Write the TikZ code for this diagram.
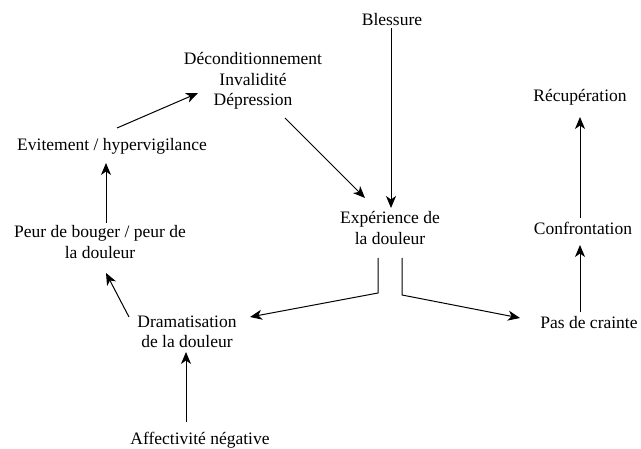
\documentclass[tikz,border=0pt]{standalone}
\usepackage{fontspec}
\setmainfont{Liberation Serif}
\usetikzlibrary{arrows.meta}
\tikzset{
  txt/.style={align=center, inner sep=0pt, font=\fontsize{17.5}{20.5}\selectfont},
  arr/.style={line width=1pt, -{Stealth[length=12pt,width=10pt,inset=3.5pt]}}
}
\begin{document}
\begin{tikzpicture}[x=1pt,y=1pt]
  \useasboundingbox (0,0) rectangle (641,449);
  % texts
  \node[txt] (blessure) at (392,429) {Blessure};
  \node[txt] (decond) at (253,368) {Déconditionnement\\Invalidité\\Dépression};
  \node[txt] (evit) at (112,303) {Evitement / hypervigilance};
  \node[txt] (peur) at (100,207) {Peur de bouger / peur de\\la douleur};
  \node[txt] (dram) at (187,117) {Dramatisation\\de la douleur};
  \node[txt] (affect) at (200,9) {Affectivité négative};
  \node[txt] (exp) at (390,221) {Expérience de\\la douleur};
  \node[txt] (pas) at (589,126) {Pas de crainte};
  \node[txt] (conf) at (583,221) {Confrontation};
  \node[txt] (recup) at (580,352) {Récupération};
  % split points below the experience
  \coordinate (splitl) at ([shift={(-12,-65)}]exp.center);
  \coordinate (splitr) at ([shift={(12,-67)}]exp.center);
  % arrows
  \draw[arr] ([shift={(-1,-8)}]blessure.center) -- ([shift={(1,20)}]exp.center);
  \draw[arr] ([shift={(32,-37)}]decond.center) -- ([shift={(-25,30)}]exp.center);
  \draw[arr] ([shift={(5,18)}]evit.center) -- ([shift={(-55,-12)}]decond.center);
  \draw[arr] ([shift={(6,19)}]peur.center) -- ([shift={(-6,-17)}]evit.center);
  \draw[arr] ([shift={(-58,15)}]dram.center) -- ([shift={(6,-31)}]peur.center);
  \draw[arr] ([shift={(-14,18)}]affect.center) -- ([shift={(-1,-20)}]dram.center);
  \draw[arr] ([shift={(-12,-30)}]exp.center) -- (splitl) -- ([shift={(63,15)}]dram.center);
  \draw[arr] ([shift={(12,-30)}]exp.center) -- (splitr) -- ([shift={(-69,5)}]pas.center);
  \draw[arr] ([shift={(-9,11)}]pas.center) -- ([shift={(-3,-17)}]conf.center);
  \draw[arr] ([shift={(-3,10)}]conf.center) -- ([shift={(0,-20)}]recup.center);
\end{tikzpicture}
\end{document}
